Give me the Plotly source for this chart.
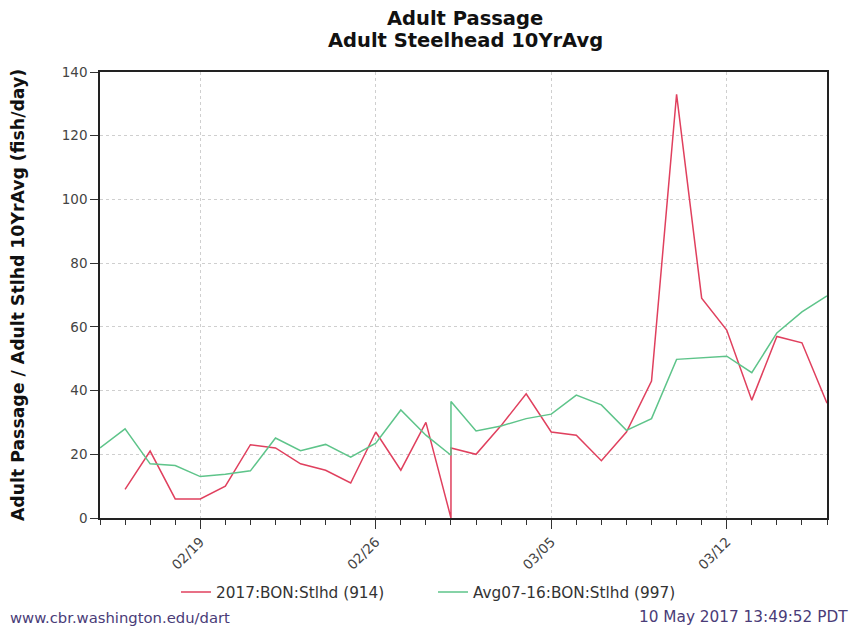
import plotly.graph_objects as go

# Data
red_dates = ["2017-02-16", "2017-02-17", "2017-02-18", "2017-02-19", "2017-02-20",
             "2017-02-21", "2017-02-22", "2017-02-23", "2017-02-24", "2017-02-25",
             "2017-02-26", "2017-02-27", "2017-02-28", "2017-03-01", "2017-03-01",
             "2017-03-02", "2017-03-03", "2017-03-04", "2017-03-05", "2017-03-06",
             "2017-03-07", "2017-03-08", "2017-03-09", "2017-03-10", "2017-03-11",
             "2017-03-12", "2017-03-13", "2017-03-14", "2017-03-15", "2017-03-16"]
red_values = [9, 21, 6, 6, 10, 23, 22, 17, 15, 11, 27, 15, 30, 0, 22,
              20, 29, 39, 27, 26, 18, 27, 43, 133, 69, 59, 37, 57, 55, 36]

green_dates = ["2017-02-15", "2017-02-16", "2017-02-17", "2017-02-18", "2017-02-19",
               "2017-02-20", "2017-02-21", "2017-02-22", "2017-02-23", "2017-02-24",
               "2017-02-25", "2017-02-26", "2017-02-27", "2017-02-28", "2017-03-01",
               "2017-03-01", "2017-03-02", "2017-03-03", "2017-03-04", "2017-03-05",
               "2017-03-06", "2017-03-07", "2017-03-08", "2017-03-09", "2017-03-10",
               "2017-03-11", "2017-03-12", "2017-03-13", "2017-03-14", "2017-03-15",
               "2017-03-16"]
green_values = [22, 28, 17, 16.5, 13, 13.7, 14.8, 25.1, 21.1, 23.1, 19.1, 23.5, 33.9, 26,
                19.7, 36.6, 27.3, 28.9, 31.2, 32.6, 38.6, 35.5, 27.5, 31.2, 49.8,
                50.2, 50.8, 45.6, 58.1, 64.7, 69.7]

red_name = "2017:BON:Stlhd (914)"
green_name = "Avg07-16:BON:Stlhd (997)"
title1 = "Adult Passage"
title2 = "Adult Steelhead 10YrAvg"
y_title = "Adult Passage / Adult Stlhd 10YrAvg (fish/day)"
footer_left = "www.cbr.washington.edu/dart"
footer_right = "10 May 2017 13:49:52 PDT"

FONT = "DejaVu Sans"
W, H = 851, 628
L, R, T, B = 100, 24, 72, 110
PW, PH = W - L - R, H - T - B


def px(xp):
    return (xp - L) / PW


def py(yp):
    return (H - B - yp) / PH


fig = go.Figure()
fig.add_trace(go.Scatter(x=red_dates, y=red_values, mode="lines", name=red_name,
                         line=dict(color="#e0405e", width=1.5)))
fig.add_trace(go.Scatter(x=green_dates, y=green_values, mode="lines", name=green_name,
                         line=dict(color="#5ec48a", width=1.5)))

fig.update_layout(
    width=W, height=H,
    margin=dict(l=L, r=R, t=T, b=B, autoexpand=False),
    paper_bgcolor="white", plot_bgcolor="white",
    font=dict(family=FONT, size=13, color="#444444"),
    showlegend=True,
    legend=dict(orientation="h", xref="container", yref="container",
                x=176 / W, xanchor="left", y=1 - 592 / H, yanchor="middle",
                font=dict(family=FONT, size=15.3, color="#333333"),
                itemwidth=30, entrywidth=212, entrywidthmode="pixels",
                bgcolor="rgba(0,0,0,0)"),
)

fig.update_xaxes(
    type="date",
    range=["2017-02-15", "2017-03-16"],
    tick0="2017-02-19", dtick=7 * 86400000,
    tickformat="%m/%d", tickangle=-45,
    ticks="outside", ticklen=9, tickcolor="#333333", tickwidth=1,
    minor=dict(dtick=86400000, tick0="2017-02-15", ticks="outside", ticklen=5,
               tickcolor="#333333", showgrid=False),
    showgrid=True, gridcolor="#cfcfcf", griddash="dot", gridwidth=1,
    showline=True, linecolor="#222222", linewidth=1.5, mirror=True,
    tickfont=dict(family=FONT, size=13.5, color="#444444"),
    zeroline=False,
)
fig.update_yaxes(
    range=[0, 140], dtick=20,
    ticks="outside", ticklen=8, tickcolor="#333333",
    showgrid=True, gridcolor="#cfcfcf", griddash="dot", gridwidth=1,
    showline=True, linecolor="#222222", linewidth=1.5, mirror=True,
    tickfont=dict(family=FONT, size=13.5, color="#444444"),
    zeroline=False,
)

fig.add_annotation(text="<b>" + title1 + "</b>", xref="paper", yref="paper",
                   x=px(465), y=py(18), xanchor="center", yanchor="middle",
                   showarrow=False, font=dict(family=FONT, size=19.5, color="#111111"))
fig.add_annotation(text="<b>" + title2 + "</b>", xref="paper", yref="paper",
                   x=px(465), y=py(40), xanchor="center", yanchor="middle",
                   showarrow=False, font=dict(family=FONT, size=19.5, color="#111111"))
fig.add_annotation(text="<b>" + y_title + "</b>", xref="paper", yref="paper",
                   x=px(18), y=0.5, xanchor="center", yanchor="middle",
                   textangle=-90, showarrow=False,
                   font=dict(family=FONT, size=17.3, color="#111111"))
fig.add_annotation(text=footer_left, xref="paper", yref="paper",
                   x=px(8), y=py(617), xanchor="left", yanchor="middle",
                   showarrow=False, font=dict(family=FONT, size=14.8, color="#4a3c78"))
fig.add_annotation(text=footer_right, xref="paper", yref="paper",
                   x=px(850), y=py(617), xanchor="right", yanchor="middle",
                   showarrow=False, font=dict(family=FONT, size=15.3, color="#4a3c78"))

fig.write_html("out.html", config={"displayModeBar": False},
               post_script="document.body.style.margin='0px';document.body.style.padding='0px';")
